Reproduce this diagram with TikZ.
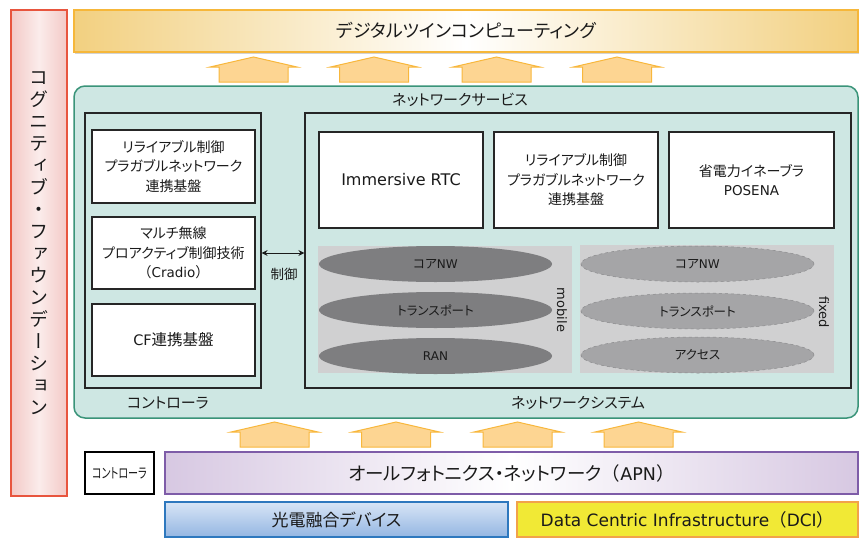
\documentclass[tikz,border=0pt]{standalone}
\usepackage{fontspec}
\setmainfont{Noto Sans CJK JP}[RawFeature=+palt]
\newfontfamily\vjp{Noto Sans CJK JP}[RawFeature=+vert]
\newfontfamily\fjp{Noto Sans CJK JP}
\newfontfamily\lat{DejaVu Sans}
\usetikzlibrary{arrows.meta,shapes.geometric,shadows}
\definecolor{redborder}{HTML}{E8553E}
\definecolor{pinkfill}{HTML}{F3C9C6}
\definecolor{goldborder}{HTML}{F6B73A}
\definecolor{goldfill}{HTML}{F2D080}
\definecolor{greenborder}{HTML}{3A9479}
\definecolor{greenfill}{HTML}{CEE7E3}
\definecolor{grayarea}{HTML}{D0D0D1}
\definecolor{mobfill}{HTML}{7E7E80}
\definecolor{fixfill}{HTML}{A5A5A7}
\definecolor{fixborder}{HTML}{8A8A8C}
\definecolor{arrfill}{HTML}{FDD592}
\definecolor{arrborder}{HTML}{F8B73C}
\definecolor{purpborder}{HTML}{7E5CA8}
\definecolor{purpfill}{HTML}{D7C8E2}
\definecolor{blueborder}{HTML}{2E78BE}
\definecolor{bluetop}{HTML}{D8E5F6}
\definecolor{bluebot}{HTML}{94B6E2}
\definecolor{dciborder}{HTML}{F2A24A}
\definecolor{dcifill}{HTML}{F1E935}
\definecolor{txt}{HTML}{1A1A1A}
\begin{document}
\begin{tikzpicture}[x=1pt,y=-1pt,
  every node/.style={text=txt},
  whitebox/.style={draw=black!85, line width=1.2pt, fill=white, align=center, inner sep=0pt},
  framebox/.style={draw=black!85, line width=1.2pt, inner sep=0pt},
  grayregion/.style={fill=grayarea, draw=none, inner sep=0pt},
  mobell/.style={ellipse, fill=mobfill, draw=none, minimum width=233pt, minimum height=36pt, inner sep=0pt, font=\fontsize{12.5}{14}\selectfont},
  fixell/.style={ellipse, fill=fixfill, draw=fixborder, dashed, line width=0.5pt, minimum width=233pt, minimum height=36pt, inner sep=0pt, font=\fontsize{12.5}{14}\selectfont},
  boxtext/.style={font=\fontsize{14}{19.5}\selectfont},
  uparr/.pic={\draw[fill=arrfill, draw=arrborder, line width=1pt, line join=miter]
     (-34.5,25) -- (-34.5,10) -- (-43.5,10) -- (0,0) -- (43.5,10) -- (34.5,10) -- (34.5,25) -- cycle;}
]
\useasboundingbox (0,0) rectangle (860,538);

% left cognitive foundation bar
\node[draw=redborder, line width=2pt, left color=pinkfill, right color=pinkfill, middle color=pinkfill!35,
  minimum width=56pt, minimum height=486pt, inner sep=0pt] (cog) at (39,253) {};
\node[font=\vjp\fontsize{19}{22}\selectfont, align=center, inner sep=0pt] (cogtext) at (39,243)
  {コ\\グ\\ニ\\テ\\ィ\\ブ\\・\\フ\\ァ\\ウ\\ン\\デ\\ー\\シ\\ョ\\ン};

% top digital twin computing bar
\node[draw=goldborder, line width=2pt, left color=goldfill, right color=goldfill, middle color=white,
  minimum width=784pt, minimum height=42pt, inner sep=0pt,
  drop shadow={opacity=0.35, shadow xshift=1pt, shadow yshift=-2pt},
  font=\fontsize{18}{20}\selectfont] (dtc) at (466,31) {デジタルツインコンピューティング};

% upper arrows
\pic at (253.5,57) {uparr};
\pic at (374,57) {uparr};
\pic at (496.5,57) {uparr};
\pic at (617,57) {uparr};

% network service green area
\node[draw=greenborder, line width=1.5pt, fill=greenfill, rounded corners=11pt,
  minimum width=784pt, minimum height=332pt, inner sep=0pt] (ns) at (466,252) {};
\node[font=\fontsize{15}{17}\selectfont] (nslabel) at (460,100) {ネットワークサービス};

% controller
\node[framebox, minimum width=176pt, minimum height=275pt] (ctrl) at (173,250.5) {};
\node[whitebox, boxtext, minimum width=163pt, minimum height=73pt] (b1) at (173.5,166.5)
  {リライアブル制御\\プラガブルネットワーク\\連携基盤};
\node[whitebox, boxtext, minimum width=163pt, minimum height=72pt] (b2) at (173.5,253)
  {マルチ無線\\プロアクティブ制御技術\\{\fjp（}{\lat\fontsize{13.5}{19.5}\selectfont Cradio}{\fjp）}};
\node[whitebox, font=\fontsize{15.5}{17}\selectfont, minimum width=163pt, minimum height=72pt] (b3) at (173.5,340)
  {{\lat\fontsize{14.5}{17}\selectfont CF}連携基盤};
\node[font=\fontsize{15}{17}\selectfont] (ctrllabel) at (168,403) {コントローラ};

% network system
\node[framebox, minimum width=546pt, minimum height=275pt] (sys) at (578,250.5) {};
\node[font=\fontsize{15}{17}\selectfont] (syslabel) at (578,403) {ネットワークシステム};
\node[whitebox, font=\lat\fontsize{16}{18}\selectfont, minimum width=164pt, minimum height=96pt] (ba) at (401,180)
  {Immersive RTC};
\node[whitebox, boxtext, minimum width=164pt, minimum height=96pt] (bb) at (576,180)
  {リライアブル制御\\プラガブルネットワーク\\連携基盤};
\node[whitebox, font=\fontsize{14}{19.5}\selectfont, minimum width=165pt, minimum height=96pt] (bc) at (751.5,180)
  {省電力イネーブラ\\{\lat\fontsize{13.5}{19.5}\selectfont POSENA}};

% mobile
\node[grayregion, minimum width=254pt, minimum height=127pt] (mob) at (445,309.5) {};
\node[mobell] (m1) at (435.5,264) {コア{\lat\fontsize{12}{14}\selectfont NW}};
\node[mobell] (m2) at (435.5,310) {トランスポート};
\node[mobell] (m3) at (435.5,356) {\lat\fontsize{12}{14}\selectfont RAN};
\node[rotate=-90, font=\lat\fontsize{13}{15}\selectfont] (moblabel) at (562,310) {mobile};

% fixed
\node[grayregion, minimum width=254pt, minimum height=128pt] (fix) at (707,309) {};
\node[fixell] (f1) at (697.5,264) {コア{\lat\fontsize{12}{14}\selectfont NW}};
\node[fixell] (f2) at (697.5,311) {トランスポート};
\node[fixell] (f3) at (697.5,355) {アクセス};
\node[rotate=-90, font=\lat\fontsize{13}{15}\selectfont] (fixlabel) at (824,312) {fixed};

% control arrow
\draw[{Stealth[length=6pt,width=6pt]}-{Stealth[length=6pt,width=6pt]}, line width=1pt, draw=txt]
  (ctrl.east |- b2.east) -- (sys.west |- b2.east);
\node[font=\fontsize{13.5}{15}\selectfont] (ctl) at (284,274) {制御};

% lower arrows
\pic at (274.5,422) {uparr};
\pic at (396,422) {uparr};
\pic at (517.5,422) {uparr};
\pic at (638.5,422) {uparr};

% APN row
\node[draw=black, line width=1.5pt, fill=white, minimum width=69pt, minimum height=42pt, inner sep=0pt,
  font=\fontsize{14}{16}\selectfont] (sctrl) at (119.5,473) {\scalebox{0.72}[1]{コントローラ}};
\node[draw=purpborder, line width=2pt, left color=purpfill, right color=purpfill, middle color=white,
  minimum width=693pt, minimum height=42pt, inner sep=0pt, font=\fontsize{18.5}{20}\selectfont] (apn) at (511.5,473)
  {オールフォトニクス・ネットワーク{\fjp（}{\lat\fontsize{17.5}{20}\selectfont APN}{\fjp）}};

% bottom row
\node[draw=blueborder, line width=2pt, top color=bluetop, bottom color=bluebot,
  minimum width=343pt, minimum height=35pt, inner sep=0pt, font=\fontsize{17}{19}\selectfont] (ped) at (336.5,519.5)
  {光電融合デバイス};
\node[draw=dciborder, line width=2pt, fill=dcifill,
  minimum width=341pt, minimum height=35pt, inner sep=0pt, font=\fontsize{17.5}{19}\selectfont] (dci) at (687.5,519.5)
  {{\lat\fontsize{17}{19}\selectfont Data Centric Infrastructure}{\fjp（}{\lat\fontsize{17}{19}\selectfont DCI}{\fjp）}};
\end{tikzpicture}
\end{document}
